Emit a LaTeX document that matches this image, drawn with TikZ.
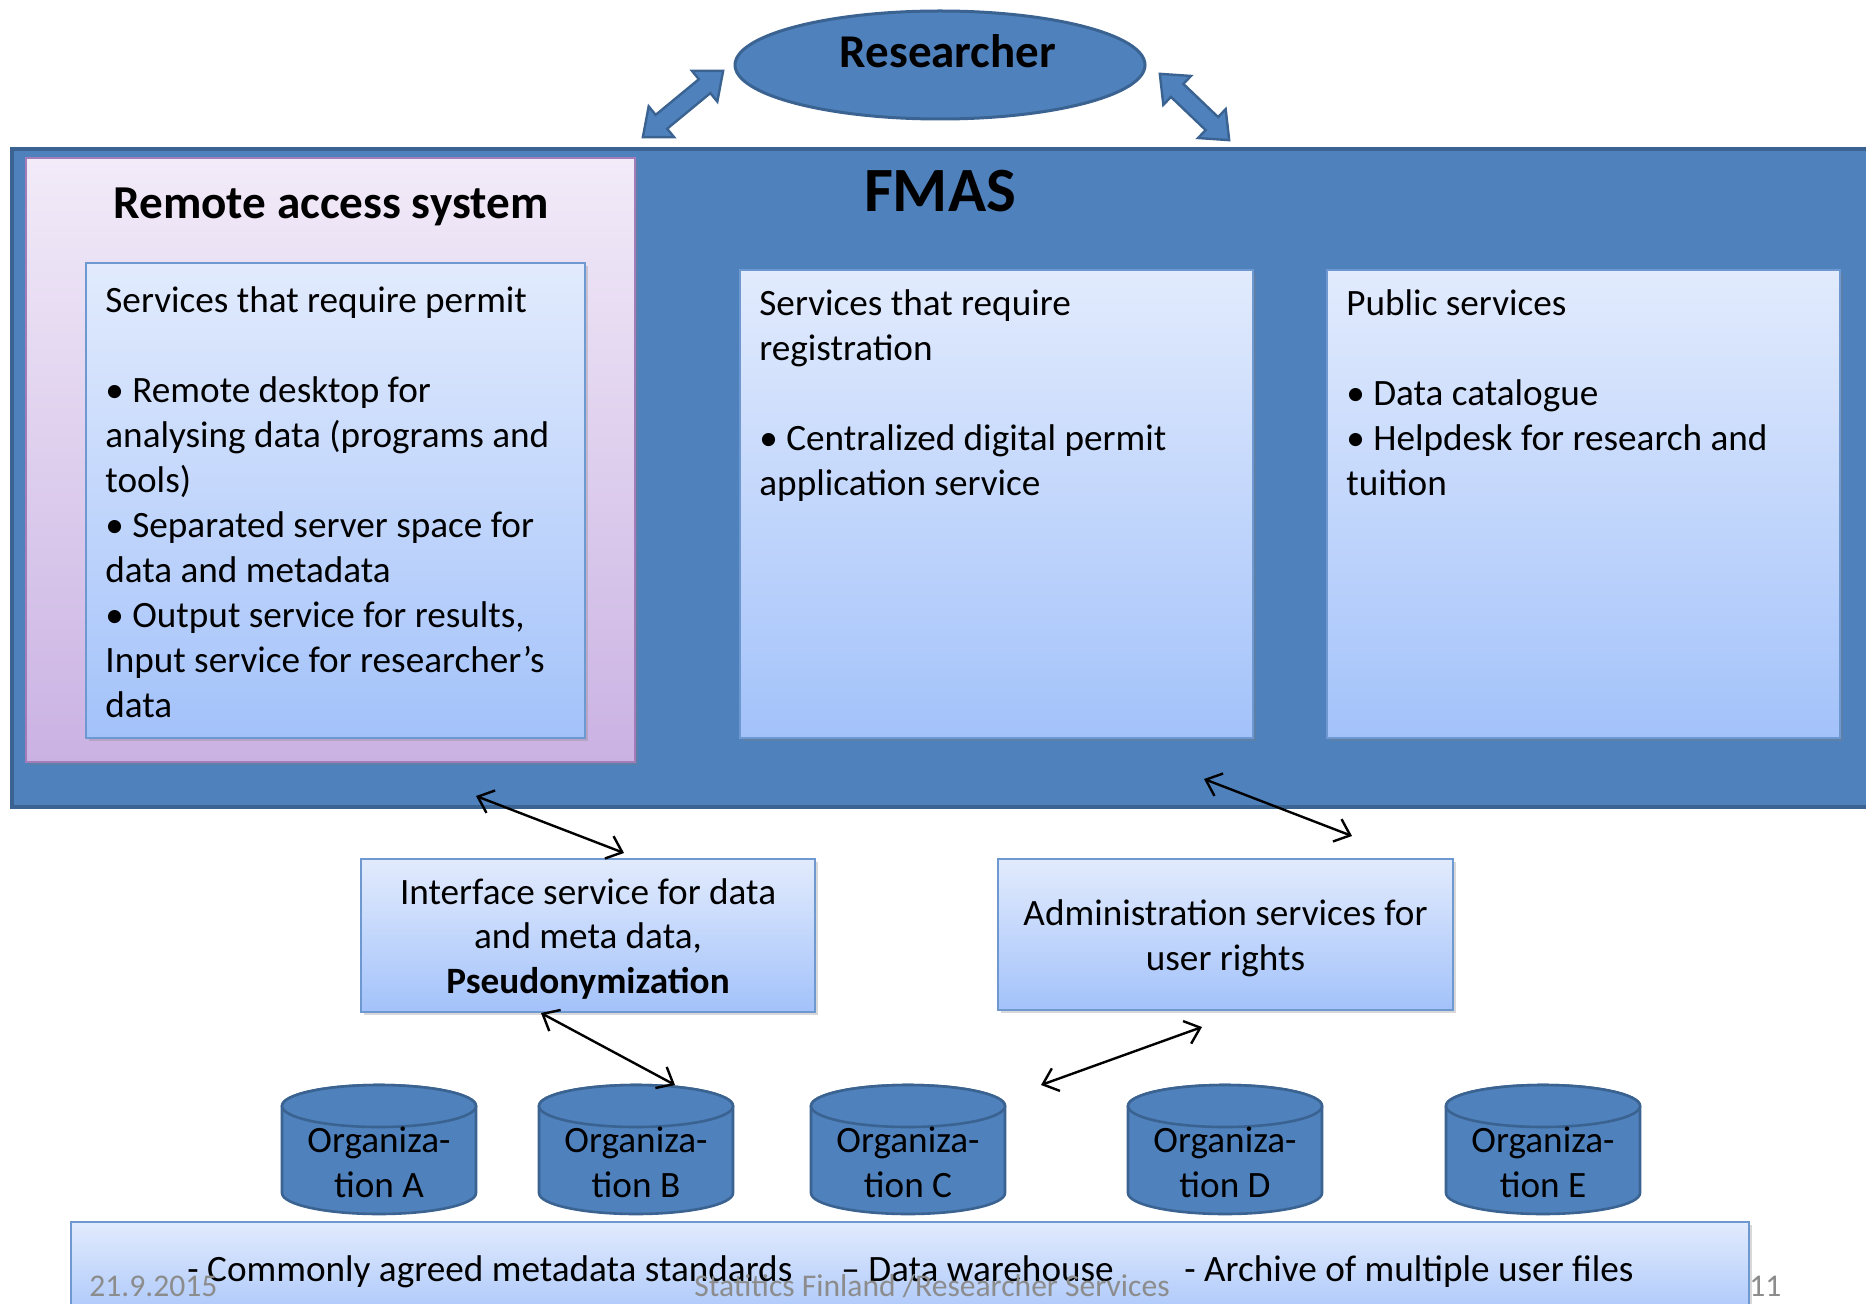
\documentclass[tikz,border=0pt]{standalone}
\usepackage{fontspec}
\setmainfont{Carlito}
\usetikzlibrary{arrows.meta,shadows,calc,shapes.geometric}

\definecolor{fmasblue}{HTML}{4F81BD}
\definecolor{fmasedge}{HTML}{3A6391}
\definecolor{boxtop}{HTML}{E2EBFD}
\definecolor{boxbot}{HTML}{A3C2FA}
\definecolor{boxedge}{HTML}{6E98D0}
\definecolor{ratop}{HTML}{F2EBF8}
\definecolor{rabot}{HTML}{CAB2E3}
\definecolor{raedge}{HTML}{A57CBA}
\definecolor{footgray}{HTML}{8C8C8C}

\newcommand\orgcyl[3]{%
  \draw[cylstyle] (#2-97,1106) -- (#2-97,1193)
     arc[start angle=180,end angle=360,x radius=48.5pt,y radius=10.5pt]
     -- (#2+97,1106)
     arc[start angle=0,end angle=180,x radius=48.5pt,y radius=10.5pt] -- cycle;
  \draw[cylstyle] (#2,1106) ellipse[x radius=48.5pt,y radius=10.5pt];
  \coordinate (#1top) at (#2,1085);
  \node[bodyfont,align=center,inner sep=0pt] (#1) at (#2,1162) {Organiza-\\tion #3};
}
\newcommand\blockdarrow[4]{%
  \begin{scope}[shift={(#1,#2)},rotate=#3]
  \draw[bigarrow] (-#4pt,0pt) -- (-#4pt+12pt,10pt) -- (-#4pt+12pt,4.5pt)
     -- (#4pt-12pt,4.5pt) -- (#4pt-12pt,10pt) -- (#4pt,0pt)
     -- (#4pt-12pt,-10pt) -- (#4pt-12pt,-4.5pt) -- (-#4pt+12pt,-4.5pt)
     -- (-#4pt+12pt,-10pt) -- cycle;
  \end{scope}
}

\begin{document}
\begin{tikzpicture}[x=0.5pt,y=-0.5pt,
  bodyfont/.style={font=\fontsize{18.6}{22.45}\selectfont},
  footfont/.style={font=\fontsize{15.8}{19}\selectfont,text=footgray},
  servicebox/.style={draw=boxedge,line width=1pt,top color=boxtop,bottom color=boxbot,
     inner sep=0pt,drop shadow={shadow xshift=1.5pt,shadow yshift=-1.5pt,opacity=0.3}},
  rabox/.style={draw=raedge,line width=1pt,top color=ratop,bottom color=rabot,inner sep=0pt,
     drop shadow={shadow xshift=1.5pt,shadow yshift=-1.5pt,opacity=0.3}},
  cylstyle/.style={fill=fmasblue,draw=fmasedge,line width=1.3pt},
  bigarrow/.style={fill=fmasblue,draw=fmasedge,line width=1.2pt,line join=miter},
  conn/.style={{Straight Barb[length=7pt,width=12pt]}-{Straight Barb[length=7pt,width=12pt]},line width=1.2pt},
  txt/.style={bodyfont,inner sep=0pt,align=left,anchor=base west}
]
\useasboundingbox (0,0) rectangle (1866,1304);
\fill[white] (0,0) rectangle (1866,1304);

% researcher
\node[ellipse,fill=fmasblue,draw=fmasedge,line width=1.5pt,minimum width=205pt,minimum height=54pt,inner sep=0pt] (res) at (940,65) {};
\node[font=\bfseries\fontsize{23.5}{28}\selectfont,inner sep=0pt] (restext) at (948,51) {Researcher};

% FMAS frame
\node[fill=fmasblue,draw=fmasedge,line width=2pt,minimum width=934pt,minimum height=329pt,inner sep=0pt] (fmas) at (946,478) {};
\node[font=\bfseries\fontsize{31.5}{36}\selectfont,inner sep=0pt] (fmastitle) at (940,191) {FMAS};

% top block arrows
\blockdarrow{683}{104}{39.5}{26}
\blockdarrow{1194.5}{107}{-43.7}{24}

% remote access system
\node[rabox,minimum width=304.5pt,minimum height=302pt] (remote) at (330.5,460) {};
\node[font=\bfseries\fontsize{23.6}{28}\selectfont,inner sep=0pt] (ratitle) at (331,207) {Remote access system};
\node[servicebox,minimum width=249.5pt,minimum height=237.5pt] (permit) at (335.5,500.5) {};
\node[txt] (permittext) at (105,717) {Services that require permit\\[22.45pt]
• Remote desktop for\\analysing data (programs and\\tools)\\
• Separated server space for\\data and metadata\\
• Output service for results,\\Input service for researcher’s\\data};

% registration
\node[servicebox,minimum width=256.5pt,minimum height=234pt] (reg) at (996.5,504) {};
\node[txt] (regtext) at (759,495) {Services that require\\registration\\[22.45pt]
• Centralized digital permit\\application service};

% public
\node[servicebox,minimum width=256.5pt,minimum height=234pt] (pub) at (1583.5,504) {};
\node[txt] (pubtext) at (1346,495) {Public services\\[22.45pt]
• Data catalogue\\• Helpdesk for research and\\tuition};

% interface and admin
\node[servicebox,minimum width=227pt,minimum height=76.5pt] (iface) at (588,935.5) {};
\node[bodyfont,align=center,inner sep=0pt] (ifacetext) at (588,939)
  {Interface service for data\\and meta data,\\\textbf{Pseudonymization}};
\node[servicebox,minimum width=227.5pt,minimum height=75.5pt] (admin) at (1225.5,934.5) {};
\node[bodyfont,align=center,inner sep=0pt] (admintext) at (1225.5,938)
  {Administration services for\\user rights};

% organisations
\orgcyl{orgA}{379}{A}
\orgcyl{orgB}{636}{B}
\orgcyl{orgC}{908}{C}
\orgcyl{orgD}{1225}{D}
\orgcyl{orgE}{1543}{E}

% base strip
\node[servicebox,minimum width=839pt,minimum height=54pt] (base) at (910,1276) {};
\node[txt] (b1) at (187,1281) {- Commonly agreed metadata standards};
\node[txt] (b2) at (841,1281) {– Data warehouse};
\node[txt] (b3) at (1184,1281) {- Archive of multiple user files};

% footer
\node[footfont,inner sep=0pt,anchor=base west] (fdate) at (89,1296) {21.9.2015};
\node[footfont,inner sep=0pt,anchor=base] (fmid) at (932,1296) {Statitics Finland /Researcher Services};
\node[footfont,inner sep=0pt,anchor=base west] (fnum) at (1749,1296) {11};

% connectors
\draw[conn] ([xshift=72.75pt,yshift=-16.5pt]remote.south) -- ([xshift=18pt,yshift=2.5pt]iface.north);
\draw[conn] ([xshift=103.75pt,yshift=-20pt]reg.south) -- ([xshift=63.25pt,yshift=11pt]admin.north);
\draw[conn] ([xshift=-23.5pt]iface.south) -- ([xshift=19.5pt]orgBtop);
\draw[conn] ([xshift=66.5pt]orgCtop) -- ([xshift=-11.75pt,yshift=-8pt]admin.south);
\end{tikzpicture}
\end{document}
